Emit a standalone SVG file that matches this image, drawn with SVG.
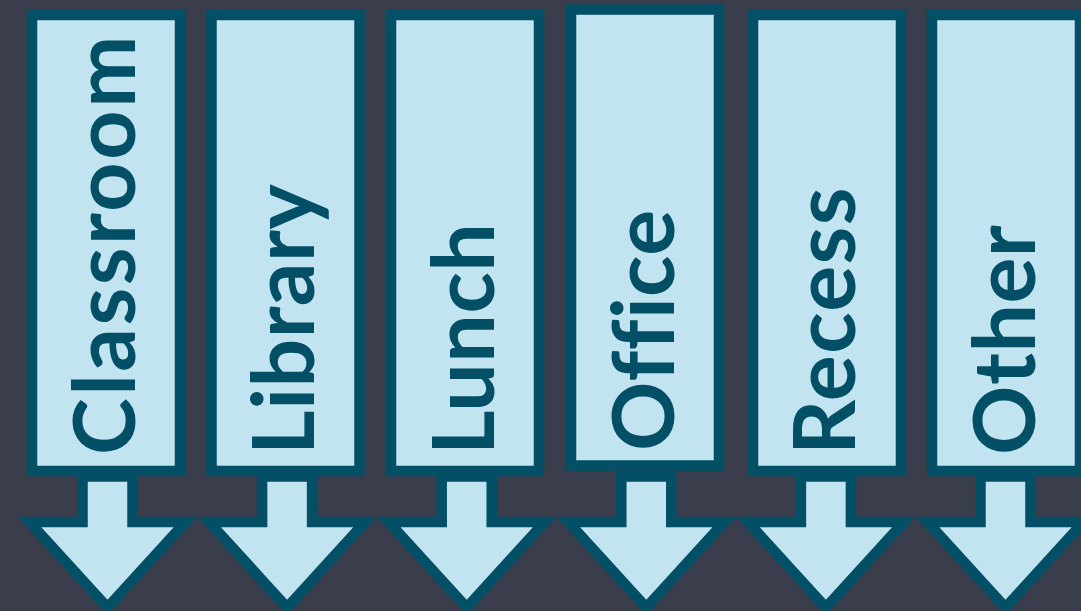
<svg xmlns="http://www.w3.org/2000/svg" width="1081" height="611" viewBox="0 0 1081 611">
<style>
.box{fill:#c2e4f0;stroke:#024f66;stroke-width:10.5;stroke-linejoin:miter}
.arr{fill:#c2e4f0;stroke:#024f66;stroke-width:10.5;stroke-linejoin:miter;stroke-miterlimit:10}
.lbl{font-family:Lato,"Open Sans",sans-serif;font-weight:700;font-size:86px;fill:#024f66}
</style>
<rect width="1081" height="611" fill="#393d4c"/>
<g id="arrows">
<polygon class="arr" points="82.5,476.5 82.5,522 29.5,522 107.5,607.5 185.5,522 132.5,522 132.5,476.5"/>
<polygon class="arr" points="262.1,476.5 262.1,522 209.1,522 287.1,607.5 365.1,522 312.1,522 312.1,476.5"/>
<polygon class="arr" points="441.7,476.5 441.7,522 388.7,522 466.7,607.5 544.7,522 491.7,522 491.7,476.5"/>
<polygon class="arr" points="621.3,476.5 621.3,522 568.3,522 646.3,607.5 724.3,522 671.3,522 671.3,476.5"/>
<polygon class="arr" points="800.9,476.5 800.9,522 747.9,522 825.9,607.5 903.9,522 850.9,522 850.9,476.5"/>
<polygon class="arr" points="980.5,476.5 980.5,522 927.5,522 1005.5,607.5 1083.5,522 1030.5,522 1030.5,476.5"/>
</g>
<g id="classroom"><rect class="box" x="32" y="15" width="148" height="456"/><text class="lbl" letter-spacing="2.5" transform="translate(135,455) rotate(-90)">Classroom</text></g>
<g id="library"><rect class="box" x="211.5" y="15" width="148" height="456"/><text class="lbl" letter-spacing="0.5" transform="translate(313.5,455) rotate(-90)">Library</text></g>
<g id="lunch"><rect class="box" x="391" y="15" width="148" height="456"/><text class="lbl" letter-spacing="0.5" transform="translate(493.5,455) rotate(-90)">Lunch</text></g>
<g id="office"><rect class="box" x="571" y="9.5" width="148" height="456"/><text class="lbl" letter-spacing="0.4" transform="translate(673.5,451) rotate(-90)">Office</text></g>
<g id="recess"><rect class="box" x="753" y="15" width="148" height="456"/><text class="lbl" letter-spacing="1.4" transform="translate(855,455) rotate(-90)">Recess</text></g>
<g id="other"><rect class="box" x="932" y="15" width="148" height="456"/><text class="lbl" letter-spacing="0.5" transform="translate(1035,455) rotate(-90)">Other</text></g>
</svg>
